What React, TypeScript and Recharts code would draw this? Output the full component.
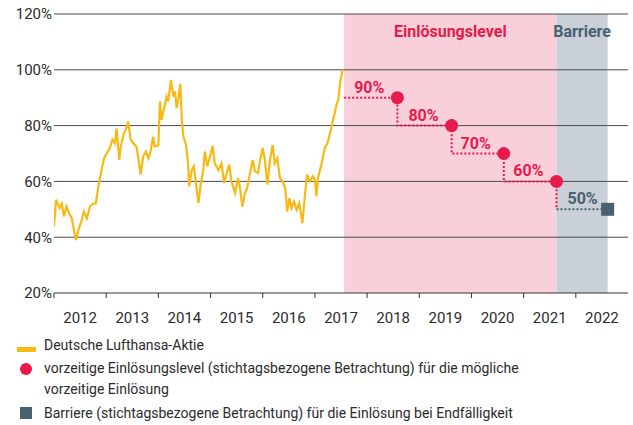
import {
  ComposedChart,
  Line,
  Scatter,
  XAxis,
  YAxis,
  ReferenceArea,
  ReferenceLine,
} from 'recharts';

// Lufthansa share price, in % of the strike level
const STOCK_T = [
  2012.0, 2012.04, 2012.11, 2012.15, 2012.19, 2012.24, 2012.29, 2012.34, 2012.37, 2012.42,
  2012.47, 2012.53, 2012.57, 2012.63, 2012.69, 2012.75, 2012.8, 2012.85, 2012.91, 2012.96,
  2013.01, 2013.07, 2013.12, 2013.17, 2013.2, 2013.25, 2013.28, 2013.34, 2013.38, 2013.42,
  2013.47, 2013.52, 2013.58, 2013.62, 2013.66, 2013.71, 2013.76, 2013.81, 2013.85, 2013.9,
  2013.93, 2014.0, 2014.03, 2014.06, 2014.11, 2014.16, 2014.19, 2014.24, 2014.29, 2014.32,
  2014.35, 2014.38, 2014.42, 2014.45, 2014.48, 2014.53, 2014.57, 2014.59, 2014.64, 2014.68,
  2014.72, 2014.77, 2014.81, 2014.86, 2014.89, 2014.94, 2014.99, 2015.04, 2015.08, 2015.15,
  2015.21, 2015.26, 2015.31, 2015.36, 2015.4, 2015.47, 2015.53, 2015.56, 2015.61, 2015.66,
  2015.7, 2015.75, 2015.81, 2015.85, 2015.91, 2015.95, 2016.0, 2016.04, 2016.09, 2016.14,
  2016.19, 2016.23, 2016.28, 2016.33, 2016.38, 2016.43, 2016.47, 2016.51, 2016.55, 2016.6,
  2016.65, 2016.7, 2016.76, 2016.81, 2016.85, 2016.9, 2016.96, 2017.0, 2017.03, 2017.06,
  2017.13, 2017.19, 2017.24, 2017.29, 2017.34, 2017.38, 2017.42, 2017.45, 2017.48, 2017.53,
];
const STOCK_V = [
  44, 53.4, 50.4, 52, 47.4, 51, 48.6, 46.8, 43.8, 39,
  42.7, 46, 49.2, 46.8, 51, 52, 52, 58.2, 64, 68.3,
  70.1, 71.9, 75, 73.7, 79, 67.7, 72.5, 77.3, 78.5, 81.5,
  75, 73.7, 72.5, 67.7, 62.4, 69, 70.7, 68.3, 70.7, 76,
  72.5, 73, 88.7, 82, 86.3, 90.4, 88.7, 96.4, 90.4, 92.2,
  86.3, 89.2, 95, 82, 76, 73.1, 66.5, 58.2, 64, 65.4,
  59.4, 52.2, 58.8, 64, 70.7, 65.4, 69, 72.8, 66.5, 64,
  66.5, 59.4, 63, 66, 60, 55.8, 61.2, 58.2, 51, 55.8,
  57.6, 62.4, 67.7, 63.6, 63, 67.7, 72, 67.7, 58.8, 67.7,
  73.1, 66.5, 68.3, 61.2, 60, 57.6, 49.2, 54, 50.4, 52.8,
  49.8, 52.2, 45, 55.2, 62.4, 60, 61.8, 60.6, 54.6, 61.2,
  66.5, 72, 73.7, 77.3, 81.5, 84.5, 88, 89.2, 95.2, 100,
];

const START_DATE = 2017.56;
const OBS_DATES = [2018.58, 2019.62, 2020.62, 2021.63];
const LEVELS = [90, 80, 70, 60];
const BARRIER_DATE = 2022.61;
const BARRIER_LEVEL = 50;

const YEARS = [2012, 2013, 2014, 2015, 2016, 2017, 2018, 2019, 2020, 2021, 2022];
const Y_TICKS = [20, 40, 60, 80, 100, 120];

const RED = '#e8194b';
const SLATE = '#49606e';
const YELLOW = '#f9b914';
const TEXT = '#2b2b2b';
const FONT = 'Roboto, sans-serif';

const W = 633;
const H = 335;
const PLOT_LEFT = 54;
const PLOT_RIGHT = 628;
const YEAR_PX = (PLOT_RIGHT - PLOT_LEFT) / YEARS.length;

const stock = STOCK_T.map((t, i) => ({ t, v: STOCK_V[i] }));
const stepRed = [
  { t: START_DATE, v: LEVELS[0] },
  ...OBS_DATES.map((t, i) => ({ t, v: i + 1 < LEVELS.length ? LEVELS[i + 1] : BARRIER_LEVEL })),
];
const stepSlate = [
  { t: OBS_DATES[OBS_DATES.length - 1], v: BARRIER_LEVEL },
  { t: BARRIER_DATE, v: BARRIER_LEVEL },
];
const dots = OBS_DATES.map((t, i) => ({ t, v: LEVELS[i] }));
const barrier = [{ t: BARRIER_DATE, v: BARRIER_LEVEL }];

function YearTick({ x, y, payload }: any) {
  return (
    <g>
      <line x1={x} x2={x} y1={y} y2={y + 5} stroke="#333" strokeWidth={1} />
      <text x={x + YEAR_PX / 2} y={y + 30} textAnchor="middle" fill={TEXT} fontSize={15} fontFamily={FONT}>
        {payload.value}
      </text>
    </g>
  );
}

function LevelDot({ cx, cy, payload }: any) {
  return (
    <g>
      <circle cx={cx} cy={cy} r={6.5} fill={RED} />
      <text x={cx - 13} y={cy - 5} textAnchor="end" fill={RED} fontSize={16} fontWeight={700} fontFamily={FONT}>
        {payload.v}%
      </text>
    </g>
  );
}

function BarrierMark({ cx, cy, payload }: any) {
  return (
    <g>
      <rect x={cx - 6.5} y={cy - 6.5} width={13} height={13} fill={SLATE} />
      <text x={cx - 10} y={cy - 5} textAnchor="end" fill={SLATE} fontSize={16} fontWeight={700} fontFamily={FONT}>
        {payload.v}%
      </text>
    </g>
  );
}

const legendText: React.CSSProperties = {
  position: 'absolute',
  left: 44,
  fontSize: 14,
  lineHeight: '21px',
  color: TEXT,
  fontFamily: FONT,
  whiteSpace: 'nowrap',
};

export default function App() {
  return (
    <div style={{ position: 'absolute', left: 0, top: 0, width: W, height: 425, background: '#fff' }}>
      <ComposedChart width={W} height={H} margin={{ top: 14, right: W - PLOT_RIGHT, bottom: 10, left: 0 }}>
        <XAxis
          type="number"
          dataKey="t"
          domain={[2012, 2023]}
          ticks={YEARS}
          allowDataOverflow
          axisLine={{ stroke: '#333', strokeWidth: 1 }}
          tickLine={false}
          tickSize={0}
          tickMargin={0}
          height={32}
          tick={<YearTick />}
          interval={0}
        />
        <YAxis
          type="number"
          dataKey="v"
          domain={[20, 120]}
          ticks={Y_TICKS}
          width={PLOT_LEFT}
          axisLine={false}
          tickLine={false}
          tickSize={0}
          tickMargin={2}
          tickFormatter={(v: number) => `${v}%`}
          tick={{ fill: TEXT, fontSize: 15, fontFamily: FONT }}
          interval={0}
        />
        <ReferenceArea
          x1={START_DATE}
          x2={OBS_DATES[OBS_DATES.length - 1]}
          y1={20}
          y2={120}
          fill="#f9d0d9"
          fillOpacity={1}
          stroke="none"
          label={{ value: 'Einlösungslevel', position: 'insideTop', offset: 12, fill: RED, fontSize: 16, fontWeight: 700, fontFamily: FONT }}
        />
        <ReferenceArea
          x1={OBS_DATES[OBS_DATES.length - 1]}
          x2={BARRIER_DATE}
          y1={20}
          y2={120}
          fill="#c9d0d7"
          fillOpacity={1}
          stroke="none"
          label={{ value: 'Barriere', position: 'insideTop', offset: 12, fill: SLATE, fontSize: 16, fontWeight: 700, fontFamily: FONT }}
        />
        {Y_TICKS.slice(1).map((v) => (
          <ReferenceLine key={v} y={v} stroke="#4a4a4a" strokeWidth={1} />
        ))}
        <Line
          data={stock}
          dataKey="v"
          type="linear"
          stroke={YELLOW}
          strokeWidth={2.2}
          dot={false}
          isAnimationActive={false}
        />
        <Line
          data={stepRed}
          dataKey="v"
          type="stepAfter"
          stroke={RED}
          strokeWidth={2}
          strokeDasharray="2 2"
          dot={false}
          isAnimationActive={false}
        />
        <Line
          data={stepSlate}
          dataKey="v"
          type="linear"
          stroke={SLATE}
          strokeWidth={2}
          strokeDasharray="2 2"
          dot={false}
          isAnimationActive={false}
        />
        <Scatter data={dots} dataKey="v" shape={<LevelDot />} isAnimationActive={false} />
        <Scatter data={barrier} dataKey="v" shape={<BarrierMark />} isAnimationActive={false} />
      </ComposedChart>

      <div style={{ position: 'absolute', left: 17, top: 347, width: 19, height: 5, background: YELLOW }} />
      <div style={{ ...legendText, top: 335 }}>Deutsche Lufthansa-Aktie</div>

      <div style={{ position: 'absolute', left: 20, top: 363, width: 12, height: 12, borderRadius: '50%', background: RED }} />
      <div style={{ ...legendText, top: 358 }}>
        vorzeitige Einlösungslevel (stichtagsbezogene Betrachtung) für die mögliche
        <br />
        vorzeitige Einlösung
      </div>

      <div style={{ position: 'absolute', left: 20, top: 407, width: 12, height: 12, background: SLATE }} />
      <div style={{ ...legendText, top: 403 }}>
        Barriere (stichtagsbezogene Betrachtung) für die Einlösung bei Endfälligkeit
      </div>
    </div>
  );
}
